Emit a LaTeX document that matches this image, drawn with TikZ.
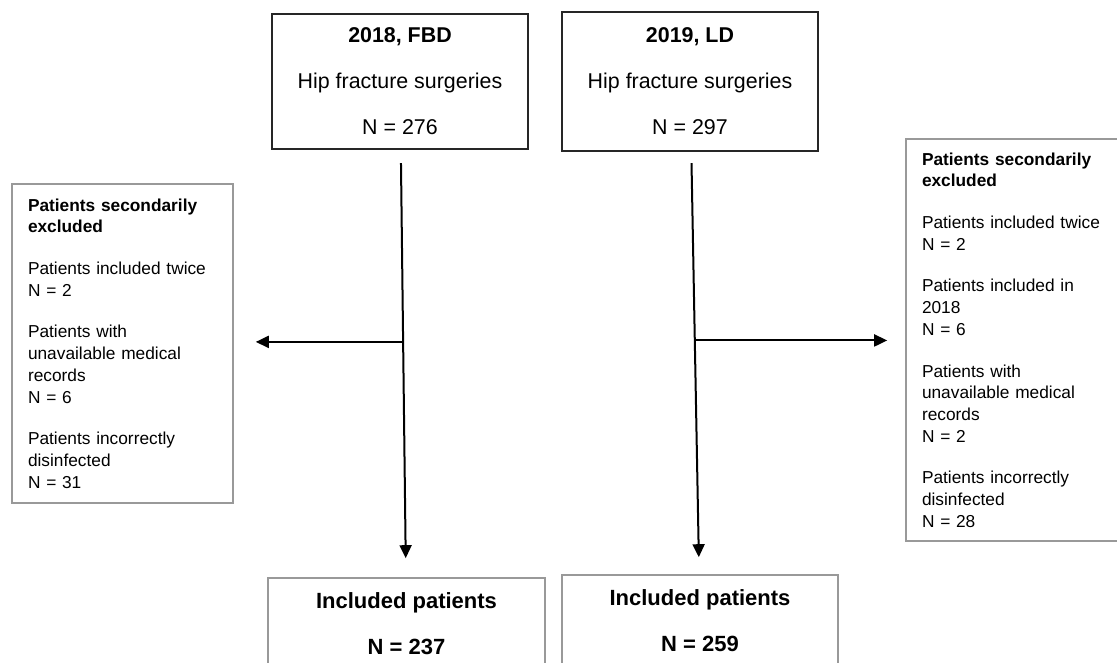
\documentclass[tikz,border=0pt]{standalone}
\usepackage{fontspec}
\setmainfont{Liberation Sans}
\usetikzlibrary{arrows.meta,calc}

\begin{document}
\begin{tikzpicture}[
    x=1pt, y=-1pt, % pixel units, y going down
    line width=2pt, % line style
    > = {Triangle[length=13pt,width=12pt]}, % arrow head style
    year/.style ={draw=black!85, line width=2.4pt, minimum width=256pt, align=center, font=\fontsize{21.4}{46}\selectfont},
    excl/.style ={draw=black!40, line width=1.6pt, align=left, inner xsep=16pt, font=\fontsize{17.3}{21.7}\selectfont},
    incl/.style ={draw=black!40, line width=1.6pt, minimum height=92pt, align=center, font=\bfseries\fontsize{22}{46}\selectfont},
    % excl/.style ={draw=gray},
]
\useasboundingbox (0,0) rectangle (1117,663);

% cohorts
\node[year, minimum height=135pt] (y18) at (400,81.5) {\textbf{2018, FBD}\\ Hip fracture surgeries\\ N = 276};
\node[year, minimum height=139pt] (y19) at (690,81.5) {\textbf{2019, LD}\\ Hip fracture surgeries\\ N = 297};

% exclusions
\node[excl, text width=189pt, minimum height=319pt] (ex18) at (122.5,343.5) {%
    \textbf{Patients secondarily}\\ \textbf{excluded}\\[20pt]
    Patients included twice\\ N = 2\\[20pt]
    Patients with\\ unavailable medical\\ records\\ N = 6\\[20pt]
    Patients incorrectly\\ disinfected\\ N = 31};
\node[excl, text width=208pt, minimum height=402pt] (ex19) at (1026,340) {%
    \textbf{Patients secondarily}\\ \textbf{excluded}\\[20pt]
    Patients included twice\\ N = 2\\[20pt]
    Patients included in\\ 2018\\ N = 6\\[20pt]
    Patients with\\ unavailable medical\\ records\\ N = 2\\[20pt]
    Patients incorrectly\\ disinfected\\ N = 28};

% included
\node[incl, minimum width=277pt] (in18) at (406.5,624) {Included patients\\ N = 237};
\node[incl, minimum width=276pt] (in19) at (700,621) {Included patients\\ N = 259};

\draw[->, shorten <=13pt, shorten >=19pt] (y18) -- (in18);
\draw[->, shorten <=11pt, shorten >=17pt] (y19) -- (in19);

\coordinate (j18) at ($(y18)!0.48!(in18)$);
\coordinate (j19) at ($(y19)!0.48!(in19)$);
\draw[->, shorten >=22pt] (j18) -- (j18 -| ex18.east);
\draw[->, shorten >=18pt] (j19) -- (j19 -| ex19.west);
\end{tikzpicture}
\end{document}
